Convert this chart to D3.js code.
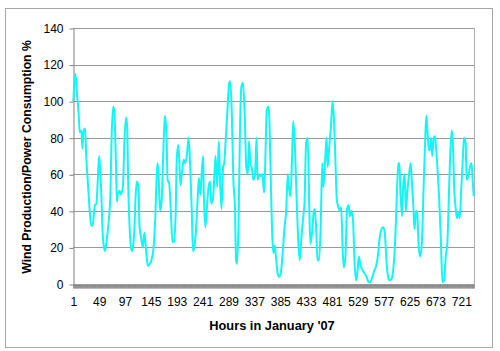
<!DOCTYPE html>
<html>
<head>
<meta charset="utf-8">
<script src="https://cdn.jsdelivr.net/npm/d3@7"></script>
<style>
  body { margin: 0; background: #fff; }
  text { font-family: "Liberation Sans", Arial, sans-serif; }
</style>
</head>
<body>
<div id="chart"></div>
<script>
// hours, with the ratio at that hour
var hours = [1,5,8,11,13,16,18,20,23,25,28,31,34,37,41,44,46,49,51,53,55,58,60,63,67,70,72,75,77,80,82,84,87,89,93,96,99,101,103,106,109,111,114,117,119,122,124,127,130,133,136,139,143,146,150,153,157,159,162,165,169,171,174,176,179,182,185,188,191,193,196,200,203,206,209,212,215,218,221,223,225,229,232,234,237,239,242,243,246,249,252,255,257,260,263,265,268,271,273,276,279,281,284,287,290,292,295,298,301,303,305,308,310,313,316,319,322,325,327,330,332,335,338,341,343,346,349,352,355,357,360,363,365,368,370,372,375,377,380,383,386,389,393,396,399,401,404,407,409,412,415,418,421,424,427,430,433,436,439,441,444,447,449,452,454,457,460,463,465,468,471,473,476,479,482,485,487,490,493,496,498,501,503,506,509,512,514,517,520,523,526,529,531,534,537,541,545,549,552,556,559,563,566,569,573,576,579,582,585,588,592,595,598,601,604,606,608,611,613,616,618,621,624,627,629,632,634,637,639,642,645,648,651,654,656,658,661,663,665,667,670,672,675,677,680,683,686,689,692,695,697,700,703,705,708,711,713,716,718,721,724,726,729,731,734,737,740,742,744];
var ratio = [100,115,104,93,83,84,74,84,85,70,56,42,32,32,43,44,54,70,62,50,31,20,18,24,35,50,79,97,95,68,45,50,51,49,53,79,91,86,53,28,18,19,28,50,56,53,31,25,20,28,19,10,11,13,20,35,66,62,40,46,80,92,82,57,55,40,23,23,39,68,76,54,62,68,66,71,80,64,39,18,19,31,48,58,49,59,70,53,31,42,53,56,44,46,60,70,53,78,60,41,64,66,80,95,109,111,95,57,42,13,11,39,79,108,110,93,64,60,78,65,64,57,59,80,57,60,59,60,50,64,95,97,89,50,28,17,21,15,6,4,6,15,31,40,60,53,48,70,89,77,50,26,13,24,35,44,77,80,40,22,28,39,41,28,13,13,31,66,53,66,80,64,75,86,100,88,71,46,42,40,42,17,9,15,41,43,37,40,35,11,2,9,15,10,8,6,4,1,1,4,7,10,15,24,30,31,28,13,4,2,3,9,22,46,66,66,50,37,53,60,40,51,60,66,57,42,30,40,39,20,15,24,53,79,92,84,73,74,80,70,80,81,71,62,46,24,1,2,15,22,39,68,84,79,51,40,36,39,36,53,70,80,77,57,59,64,66,57,48];

var yTicks = [0,20,40,60,80,100,120,140];
var xLabels = [1,49,97,145,193,241,289,337,385,433,481,529,577,625,673,721];
var nHours = 744;

function init(){
    var w = 500, h = 351;
    var pLeft = 73, pRight = 474, pTop = 28, pBottom = 284;

    var svg = d3.select("#chart").append("svg")
        .attr("width", w).attr("height", h);

    // outer chart frame
    svg.append("rect")
        .attr("x", 5.5).attr("y", 8.5).attr("width", 487).attr("height", 339)
        .attr("fill", "#fff").attr("stroke", "#a6a6a6").attr("stroke-width", 1);

    var x = d3.scaleLinear().domain([0.5, nHours + 0.5]).range([pLeft, pRight]);
    var y = d3.scaleLinear().domain([0, 140]).range([pBottom, pTop]);

    // gridlines
    svg.append("g").selectAll("line")
        .data(yTicks.slice(1))
        .enter().append("line")
        .attr("x1", pLeft).attr("x2", pRight)
        .attr("y1", function(d){ return Math.round(y(d)) + 0.5; })
        .attr("y2", function(d){ return Math.round(y(d)) + 0.5; })
        .attr("stroke", "#9a9a9a");

    // plot frame right side
    svg.append("line")
        .attr("x1", pRight + 0.5).attr("x2", pRight + 0.5)
        .attr("y1", pTop).attr("y2", pBottom)
        .attr("stroke", "#b0b0b0");

    // y axis
    var yAxis = svg.append("g")
        .attr("transform", "translate(" + (pLeft + 0.5) + ",0.5)")
        .call(d3.axisLeft(y).tickValues(yTicks).tickSize(4).tickSizeOuter(0));
    yAxis.select(".domain").attr("stroke", "#808080");
    yAxis.selectAll(".tick line").attr("stroke", "#808080");
    yAxis.selectAll(".tick text")
        .attr("x", -10).attr("font-size", 12)
        .attr("fill", "#000")
        .style("font-family", "Liberation Sans, Arial, sans-serif");

    // x axis: a tick mark at every hour boundary
    var xTickAxis = svg.append("g")
        .attr("transform", "translate(0," + (pBottom + 0.5) + ")")
        .call(d3.axisBottom(x).tickValues(d3.range(0.5, nHours + 1, 1)).tickSize(4).tickSizeOuter(0).tickFormat(""));
    xTickAxis.select(".domain").attr("stroke", "#808080");
    xTickAxis.selectAll(".tick line").attr("stroke", "#808080").attr("stroke-width", 0.7);

    var xLabelAxis = svg.append("g")
        .attr("transform", "translate(0," + pBottom + ")")
        .call(d3.axisBottom(x).tickValues(xLabels).tickSize(0).tickFormat(d3.format("d")));
    xLabelAxis.select(".domain").remove();
    xLabelAxis.selectAll(".tick text")
        .attr("y", 13).attr("font-size", 12)
        .attr("fill", "#000")
        .style("font-family", "Liberation Sans, Arial, sans-serif");

    // the series
    var line = d3.line()
        .x(function(d, i){ return x(hours[i]); })
        .y(function(d){ return y(d); })
        .curve(d3.curveMonotoneX);

    svg.append("path")
        .datum(ratio)
        .attr("d", line)
        .attr("fill", "none")
        .attr("stroke", "#14f5f5")
        .attr("stroke-width", 2)
        .attr("stroke-linejoin", "round");

    // axis titles
    svg.append("text")
        .attr("x", 272).attr("y", 330)
        .attr("text-anchor", "middle")
        .attr("font-size", 12.8).attr("font-weight", "bold")
        .text("Hours in January '07");

    svg.append("text")
        .attr("transform", "translate(31,157) rotate(-90)")
        .attr("text-anchor", "middle")
        .attr("font-size", 12.2).attr("font-weight", "bold")
        .text("Wind Production/Power Consumption %");
}
window.onload = init;
</script>
</body>
</html>
